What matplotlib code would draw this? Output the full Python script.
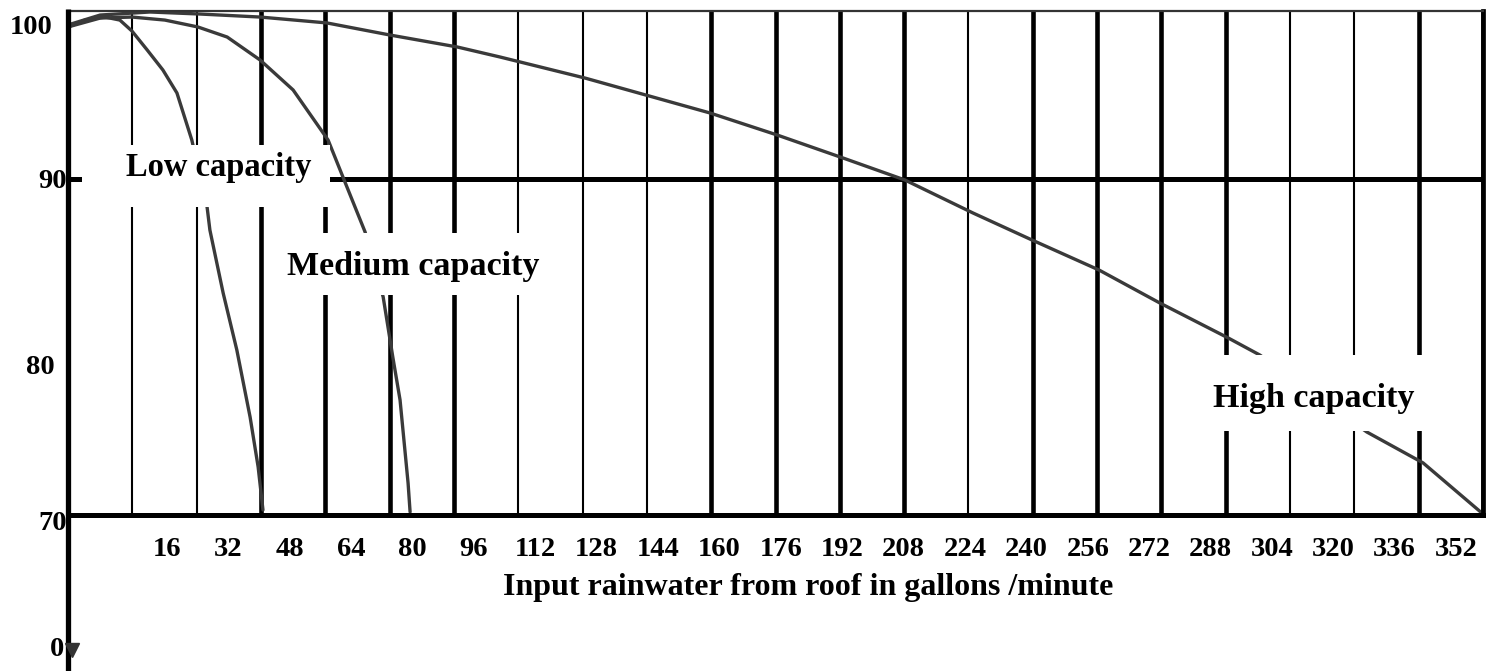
import matplotlib
matplotlib.use("Agg")
import matplotlib.pyplot as plt
import numpy as np
from matplotlib.patches import Rectangle
from matplotlib.transforms import ScaledTranslation

# ---------------- data ----------------
low_x = [0, 4.2, 9.2, 12.9, 15.9, 19.7, 23.6, 27.1, 30.8, 34.6, 35.3, 38.6, 42.0, 45.3, 47.3, 48.5]
low_y = [99.05, 99.46, 99.64, 99.46, 98.81, 97.68, 96.49, 95.12, 92.32, 88.33, 86.96, 83.21, 79.82, 75.83, 72.86, 70.3]

med_x = [0, 8, 15.9, 24.1, 32.3, 39.6, 47.8, 56.0, 64.7, 69.4, 73.9, 78.4, 80.8, 82.6, 84.6, 85.1]
med_y = [99.05, 99.58, 99.64, 99.46, 99.05, 98.45, 97.08, 95.30, 92.32, 89.52, 86.85, 82.98, 79.40, 76.85, 71.9, 70.18]

high_x = [0, 8, 20.4, 32.8, 47.8, 64.4, 80.1, 96.8, 107.5, 128.6, 145.5, 159.7, 176.4, 192.8,
          208.2, 225.1, 239.8, 256.5, 271.6, 288.6, 296.5, 323.1, 337.1, 352]
high_y = [99.17, 99.76, 99.94, 99.82, 99.64, 99.29, 98.57, 97.86, 97.26, 96.01, 94.88, 93.93, 92.62, 91.25,
          89.94, 87.98, 86.37, 84.58, 82.62, 80.54, 79.52, 74.94, 73.10, 70.06]

x_ticks = [16, 32, 48, 64, 80, 96, 112, 128, 144, 160, 176, 192, 208, 224, 240, 256,
           272, 288, 304, 320, 336, 352]
grid_thick = [False, False, True, True, True, True, False, False, False, True, True, True, True,
              False, True, True, True, True, False, False, True, True]
y_ticks = [70, 80, 90, 100]
y_labels = ["70", "80", "90", "100"]
series_names = ["Low capacity", "Medium capacity", "High capacity"]
x_title = "Input rainwater from roof in gallons /minute"

# ---------------- layout ----------------
W, H = 1494, 671
plt.rcParams["font.family"] = ["Liberation Serif", "DejaVu Serif"]
plt.rcParams["font.weight"] = "bold"

fig = plt.figure(figsize=(W / 100, H / 100), dpi=100)
L, R, T, B = 68, 1483, 11, 515
ax = fig.add_axes([L / W, 1 - B / H, (R - L) / W, (B - T) / H])
ax.set_xlim(0, 352)
ax.set_ylim(70, 100)

def fx(px):
    return px / W

def fy(py):
    return 1 - py / H

# grid
for xv, thick in zip(x_ticks, grid_thick):
    ax.axvline(xv, color="black", lw=3.3 if thick else 1.5, zorder=1)
ax.axhline(90, color="black", lw=3.6, zorder=1)

# curves
line_col = "#3a3a3a"
for xs, ys in [(low_x, low_y), (med_x, med_y), (high_x, high_y)]:
    ax.plot(xs, ys, color=line_col, lw=2.4, solid_capstyle="round", solid_joinstyle="round", zorder=2)

# spines
ax.spines["left"].set_visible(False)
ax.spines["bottom"].set_linewidth(3.6)
ax.spines["right"].set_linewidth(3.4)
ax.spines["top"].set_linewidth(1.6)
ax.spines["top"].set_color("#333333")
# left axis extends down to the figure bottom
ax.plot([0, 0], [1.003, -(H - B) / (B - T) - 0.02], transform=ax.transAxes,
        color="black", lw=3.8, clip_on=False, zorder=4, solid_capstyle="butt")

# label boxes (white backgrounds interrupting grid) + texts
boxes = [(82, 145, 330, 207), (268, 233, 560, 295), (1198, 355, 1440, 431)]
text_pos = [(219, 176), (413, 275), (1314, 407)]
text_size = [23.5, 24.5, 24.5]
for (x0, y0, x1, y1), (tx, ty), name, fs in zip(boxes, text_pos, series_names, text_size):
    ax.add_patch(Rectangle((fx(x0), fy(y1)), (x1 - x0) / W, (y1 - y0) / H,
                           transform=fig.transFigure, facecolor="white",
                           edgecolor="none", zorder=5, clip_on=False))
    ax.text(fx(tx), fy(ty), name, transform=fig.transFigure, ha="center",
            va="baseline", fontsize=fs, fontweight="bold", zorder=6)

# x tick labels (hand-placed, drifting relative to the grid)
lab_pos = [24.6 + (v - 16) * (345.3 - 24.6) / (352 - 16) for v in x_ticks]
ax.set_xticks(lab_pos)
ax.set_xticklabels([str(v) for v in x_ticks], fontsize=20.5, fontweight="bold")
ax.tick_params(axis="x", length=0, pad=16)

# y tick labels
ax.set_yticks(y_ticks)
ax.set_yticklabels(y_labels, fontsize=20.5, fontweight="bold")
ax.tick_params(axis="y", length=0, pad=4)
y_off = {"100": (-10, -13), "90": (4, 0), "80": (-8, -18), "70": (4, -6)}
for lbl in ax.get_yticklabels():
    dx, dy = y_off[lbl.get_text()]
    lbl.set_transform(lbl.get_transform() + ScaledTranslation(dx / 100, dy / 100, fig.dpi_scale_trans))

# "0" at the foot of the axis
y0_ax = -(650 - B) / (B - T)
ax.text(-0.003, y0_ax, "0", transform=ax.transAxes, ha="right", va="center",
        fontsize=20.5, fontweight="bold")
ax.plot([0.003], [y0_ax], transform=ax.transAxes, marker="v", ms=10,
        color="#333333", clip_on=False, zorder=4)

# axis title
fig.text(fx(808), fy(595), x_title, ha="center", va="baseline", fontsize=23, fontweight="bold")

fig.savefig("out.png", dpi=100, facecolor="white")
